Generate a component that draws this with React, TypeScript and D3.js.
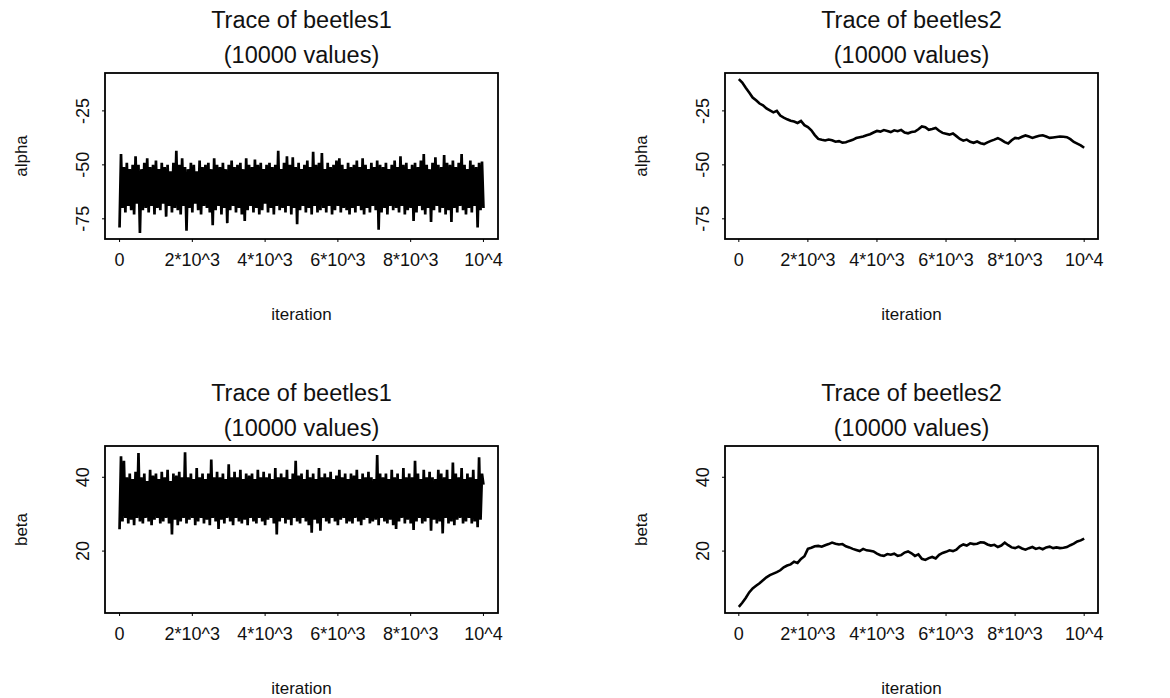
import React from "react";
import * as d3 from "d3";

// iteration axis
const xTickValues = [0, 2000, 4000, 6000, 8000, 10000];
const xTickLabels = ["0", "2*10^3", "4*10^3", "6*10^3", "8*10^3", "10^4"];
const nIter = 10000;

const alphaTicks = [-25, -50, -75];
const betaTicks = [20, 40];

// chain 1, alpha (thinned trace, one value every 40 iterations)
const alphaBeetles1 = [
  -79, -45, -70, -51, -72, -49, -69, -52, -71, -50,
  -73, -46, -68, -50, -81.5, -52, -71, -49, -70, -47,
  -72, -51, -69, -50, -73, -48, -70, -52, -71, -49,
  -68, -51, -74, -50, -69, -53, -72, -49, -70, -43.5,
  -71, -50, -73, -47, -69, -51, -80.5, -52, -70, -49,
  -72, -50, -68, -53, -71, -48, -73, -51, -69, -50,
  -70, -49, -72, -52, -78, -47, -71, -50, -69, -51,
  -73, -49, -70, -52, -77, -50, -71, -48, -69, -51,
  -72, -50, -70, -49, -73, -52, -76, -47, -71, -50,
  -69, -51, -72, -47.5, -70, -50, -73, -49, -71, -52,
  -68, -50, -72, -49, -70, -51, -73, -50, -69, -43.5,
  -71, -52, -70, -49, -72, -46, -69, -50, -73, -46.5,
  -70, -51, -77.5, -49, -71, -52, -69, -50, -72, -48,
  -70, -51, -73, -44, -69, -50, -72, -49, -71, -44.5,
  -70, -52, -72, -49, -69, -51, -73, -50, -71, -48,
  -69, -47, -72, -50, -70, -52, -71, -49, -73, -51,
  -70, -50, -72, -48, -69, -51, -71, -47, -73, -50,
  -70, -52, -72, -49, -69, -51, -71, -48, -80, -50,
  -72, -51, -70, -49, -73, -52, -69, -50, -71, -48,
  -70, -51, -72, -46, -69, -50, -73, -49, -71, -52,
  -70, -50, -76, -49, -72, -51, -69, -48, -71, -45,
  -73, -50, -70, -52, -76.5, -49, -71, -46.5, -69, -50,
  -72, -51, -70, -45.5, -73, -49, -71, -50, -76.5, -48,
  -70, -51, -72, -49, -69, -45, -71, -50, -73, -52,
  -70, -48, -72, -50, -69, -51, -79, -49, -71, -48.5,
  -70,
];

// chain 2, alpha (one value every 100 iterations)
const alphaBeetles2 = [
  -10.3, -11.9, -14.3, -16.5, -18.8, -20.1, -21.6, -22.4, -23.9, -24.8,
  -25.7, -25.0, -27.2, -28.1, -28.9, -29.6, -29.9, -30.6, -29.7, -31.6,
  -32.5, -34.0, -36.2, -38.0, -38.4, -38.7, -38.3, -38.6, -39.3, -39.0,
  -39.7, -39.5, -38.9, -38.4, -37.6, -37.2, -36.9, -36.3, -35.8, -35.0,
  -34.3, -34.6, -33.9, -34.3, -34.8, -34.0, -34.4, -33.8, -35.0, -35.4,
  -34.8, -34.6, -33.5, -32.2, -32.6, -33.8, -33.4, -32.9, -34.2, -35.2,
  -35.6, -36.0, -35.5, -36.7, -38.0, -38.8, -38.3, -39.3, -39.8, -39.2,
  -40.0, -40.4, -39.6, -38.9, -38.3, -37.6, -38.4, -39.5, -40.1, -38.6,
  -37.5, -37.8, -37.0, -36.4, -36.9, -37.5, -37.0, -36.5, -36.3, -36.9,
  -37.5, -37.3, -37.1, -36.9, -37.0, -37.2, -38.1, -39.4, -40.2, -41.0,
  -42.1,
];

// chain 1, beta (one value every 40 iterations)
const betaBeetles1 = [
  25.9, 45.7, 28, 44.5, 29, 40, 27.5, 41, 28.5, 39.5,
  27, 41.5, 29, 46.6, 28, 40, 27.5, 41, 29, 39,
  28, 42, 27, 40.5, 28.5, 41, 29, 39.5, 27.5, 41.5,
  28, 40, 29, 42, 27.5, 39, 24.5, 41, 28.5, 40.5,
  27, 41.5, 28, 40, 29, 46.8, 27.5, 40, 28.5, 41,
  29, 39.5, 27, 42.5, 28, 40, 29, 41, 27.5, 39.5,
  28.5, 41, 27, 44.8, 29, 40, 28, 41.5, 26, 40,
  28.5, 41, 27.5, 39.5, 29, 43.5, 28, 40, 27, 41.5,
  29, 40, 28, 42, 27.5, 39.5, 28.5, 41, 27, 40.5,
  29, 41, 28, 39.5, 27.5, 42, 29, 40, 28, 41.5,
  27, 40, 28.5, 41, 29, 39.5, 27.5, 42.5, 24.5, 40,
  28, 41, 29, 40, 27.5, 42, 28.5, 39.5, 27, 41,
  29, 44.5, 28, 40.5, 27.5, 41, 29, 39.5, 28, 42,
  27, 40, 25, 41, 28.5, 39.5, 27.5, 42.5, 25.5, 40,
  29, 41, 28, 40, 27.5, 41.5, 29, 39.5, 28, 40.5,
  27, 42, 28.5, 40, 29, 41, 27.5, 39.5, 28, 41,
  27.5, 40.5, 29, 42, 28, 39.5, 27, 41, 28.5, 40,
  29, 41.5, 27.5, 40, 28, 39.5, 28.5, 46, 27, 41,
  29, 40, 28, 41, 27.5, 39.5, 28.5, 42, 27, 40,
  26, 41, 28, 39.5, 29, 42.5, 27.5, 40, 28.5, 41,
  27.5, 40, 25.7, 44.5, 28, 41, 29, 39.5, 27.5, 42,
  28, 40, 29, 41.5, 25.5, 40, 28.5, 39.5, 27.5, 42,
  28, 41, 24.8, 40, 29, 42, 27.5, 39.5, 28, 44,
  27, 41, 28.5, 40, 29, 42.5, 27.5, 39.5, 28, 41,
  29, 40, 27.5, 42, 28, 39.5, 26.5, 45.4, 28.5, 41,
  38,
];

// chain 2, beta (one value every 100 iterations)
const betaBeetles2 = [
  4.9, 6.0, 7.3, 8.8, 9.9, 10.6, 11.3, 12.1, 12.9, 13.5,
  13.9, 14.3, 14.8, 15.6, 16.1, 16.4, 17.1, 16.8, 17.9, 18.6,
  20.6, 20.9, 21.3, 21.4, 21.2, 21.6, 21.9, 22.3, 22.0, 21.8,
  21.9, 21.3, 21.0, 20.6, 20.3, 20.0, 20.6, 20.2, 20.1, 19.9,
  19.3, 18.9, 18.7, 19.2, 19.0, 19.3, 18.7, 18.9, 19.6, 19.9,
  19.4, 18.7, 19.1, 17.9, 17.6, 18.1, 18.4, 18.0, 19.0, 19.5,
  19.8, 20.2, 20.0, 20.4, 21.3, 21.8, 21.5, 22.1, 21.9, 22.0,
  22.4, 22.3, 21.8, 21.5, 21.7, 21.1, 21.5, 22.3, 21.6, 21.0,
  20.8, 21.2, 20.7, 20.4, 20.8, 21.1, 20.6, 20.9, 20.5, 21.0,
  21.2, 20.8, 21.0, 20.8, 20.9, 21.1, 21.6, 22.0, 22.6, 22.9,
  23.4,
];

const FONT = "'Liberation Sans', Arial, Helvetica, sans-serif";

// R style: extend the data range by 4% on each side
function padded(ext: [number, number]): [number, number] {
  const d = (ext[1] - ext[0]) * 0.04;
  return [ext[0] - d, ext[1] + d];
}

const xDomain = padded([0, nIter]);
const alphaDomain = padded(d3.extent([...alphaBeetles1, ...alphaBeetles2]) as [number, number]);
const betaDomain = padded(d3.extent([...betaBeetles1, ...betaBeetles2]) as [number, number]);

const panels = [
  { chain: "beetles1", label: "alpha", values: alphaBeetles1, ticks: alphaTicks, domain: alphaDomain, lw: 2.7, left: 105, right: 498, top: 73, bottom: 239 },
  { chain: "beetles2", label: "alpha", values: alphaBeetles2, ticks: alphaTicks, domain: alphaDomain, lw: 2.6, left: 725, right: 1098, top: 73, bottom: 239 },
  { chain: "beetles1", label: "beta", values: betaBeetles1, ticks: betaTicks, domain: betaDomain, lw: 2.7, left: 105, right: 498, top: 446, bottom: 613 },
  { chain: "beetles2", label: "beta", values: betaBeetles2, ticks: betaTicks, domain: betaDomain, lw: 2.6, left: 725, right: 1098, top: 446, bottom: 613 },
];

function TracePanel({ p }: { p: any }) {
  const x = d3.scaleLinear().domain(xDomain).range([p.left, p.right]);
  const y = d3.scaleLinear().domain(p.domain).range([p.bottom, p.top]);
  const step = nIter / (p.values.length - 1);
  const line = d3
    .line<number>()
    .x((_, i) => x(i * step))
    .y((d) => y(d));
  const cx = (p.left + p.right) / 2;
  const cy = (p.top + p.bottom) / 2;

  return (
    <g>
      {/* title */}
      <text x={cx} y={p.top - 45} textAnchor="middle" fontSize={23.5} fill="#111">
        {`Trace of ${p.chain}`}
      </text>
      <text x={cx} y={p.top - 10} textAnchor="middle" fontSize={23.5} fill="#111">
        (10000 values)
      </text>

      <path d={line(p.values) || ""} fill="none" stroke="#000" strokeWidth={p.lw} strokeLinejoin="miter" strokeMiterlimit={2} />

      <rect x={p.left} y={p.top} width={p.right - p.left} height={p.bottom - p.top} fill="none" stroke="#000" strokeWidth={1.8} />

      {/* x axis */}
      {xTickValues.map((v, i) => (
        <g key={v}>
          <line x1={x(v)} x2={x(v)} y1={p.bottom} y2={p.bottom + 3} stroke="#000" />
          <text x={x(v)} y={p.bottom + 27} textAnchor="middle" fontSize={18} fill="#111">
            {xTickLabels[i]}
          </text>
        </g>
      ))}
      <text x={cx} y={p.bottom + 81} textAnchor="middle" fontSize={17} fill="#111">
        iteration
      </text>

      {/* y axis */}
      {p.ticks.map((v: number) => (
        <g key={v}>
          <line x1={p.left - 3} x2={p.left} y1={y(v)} y2={y(v)} stroke="#000" />
          <text
            transform={`translate(${p.left - 16},${y(v)}) rotate(-90)`}
            textAnchor="middle"
            fontSize={18}
            fill="#111"
          >
            {v}
          </text>
        </g>
      ))}
      <text
        transform={`translate(${p.left - 78},${cy}) rotate(-90)`}
        textAnchor="middle"
        fontSize={17}
        fill="#111"
      >
        {p.label}
      </text>
    </g>
  );
}

export default function App() {
  return (
    <svg
      width={1170}
      height={698}
      style={{ position: "absolute", left: 0, top: 0, background: "#fff", fontFamily: FONT }}
    >
      {panels.map((p, i) => (
        <TracePanel key={i} p={p} />
      ))}
    </svg>
  );
}
